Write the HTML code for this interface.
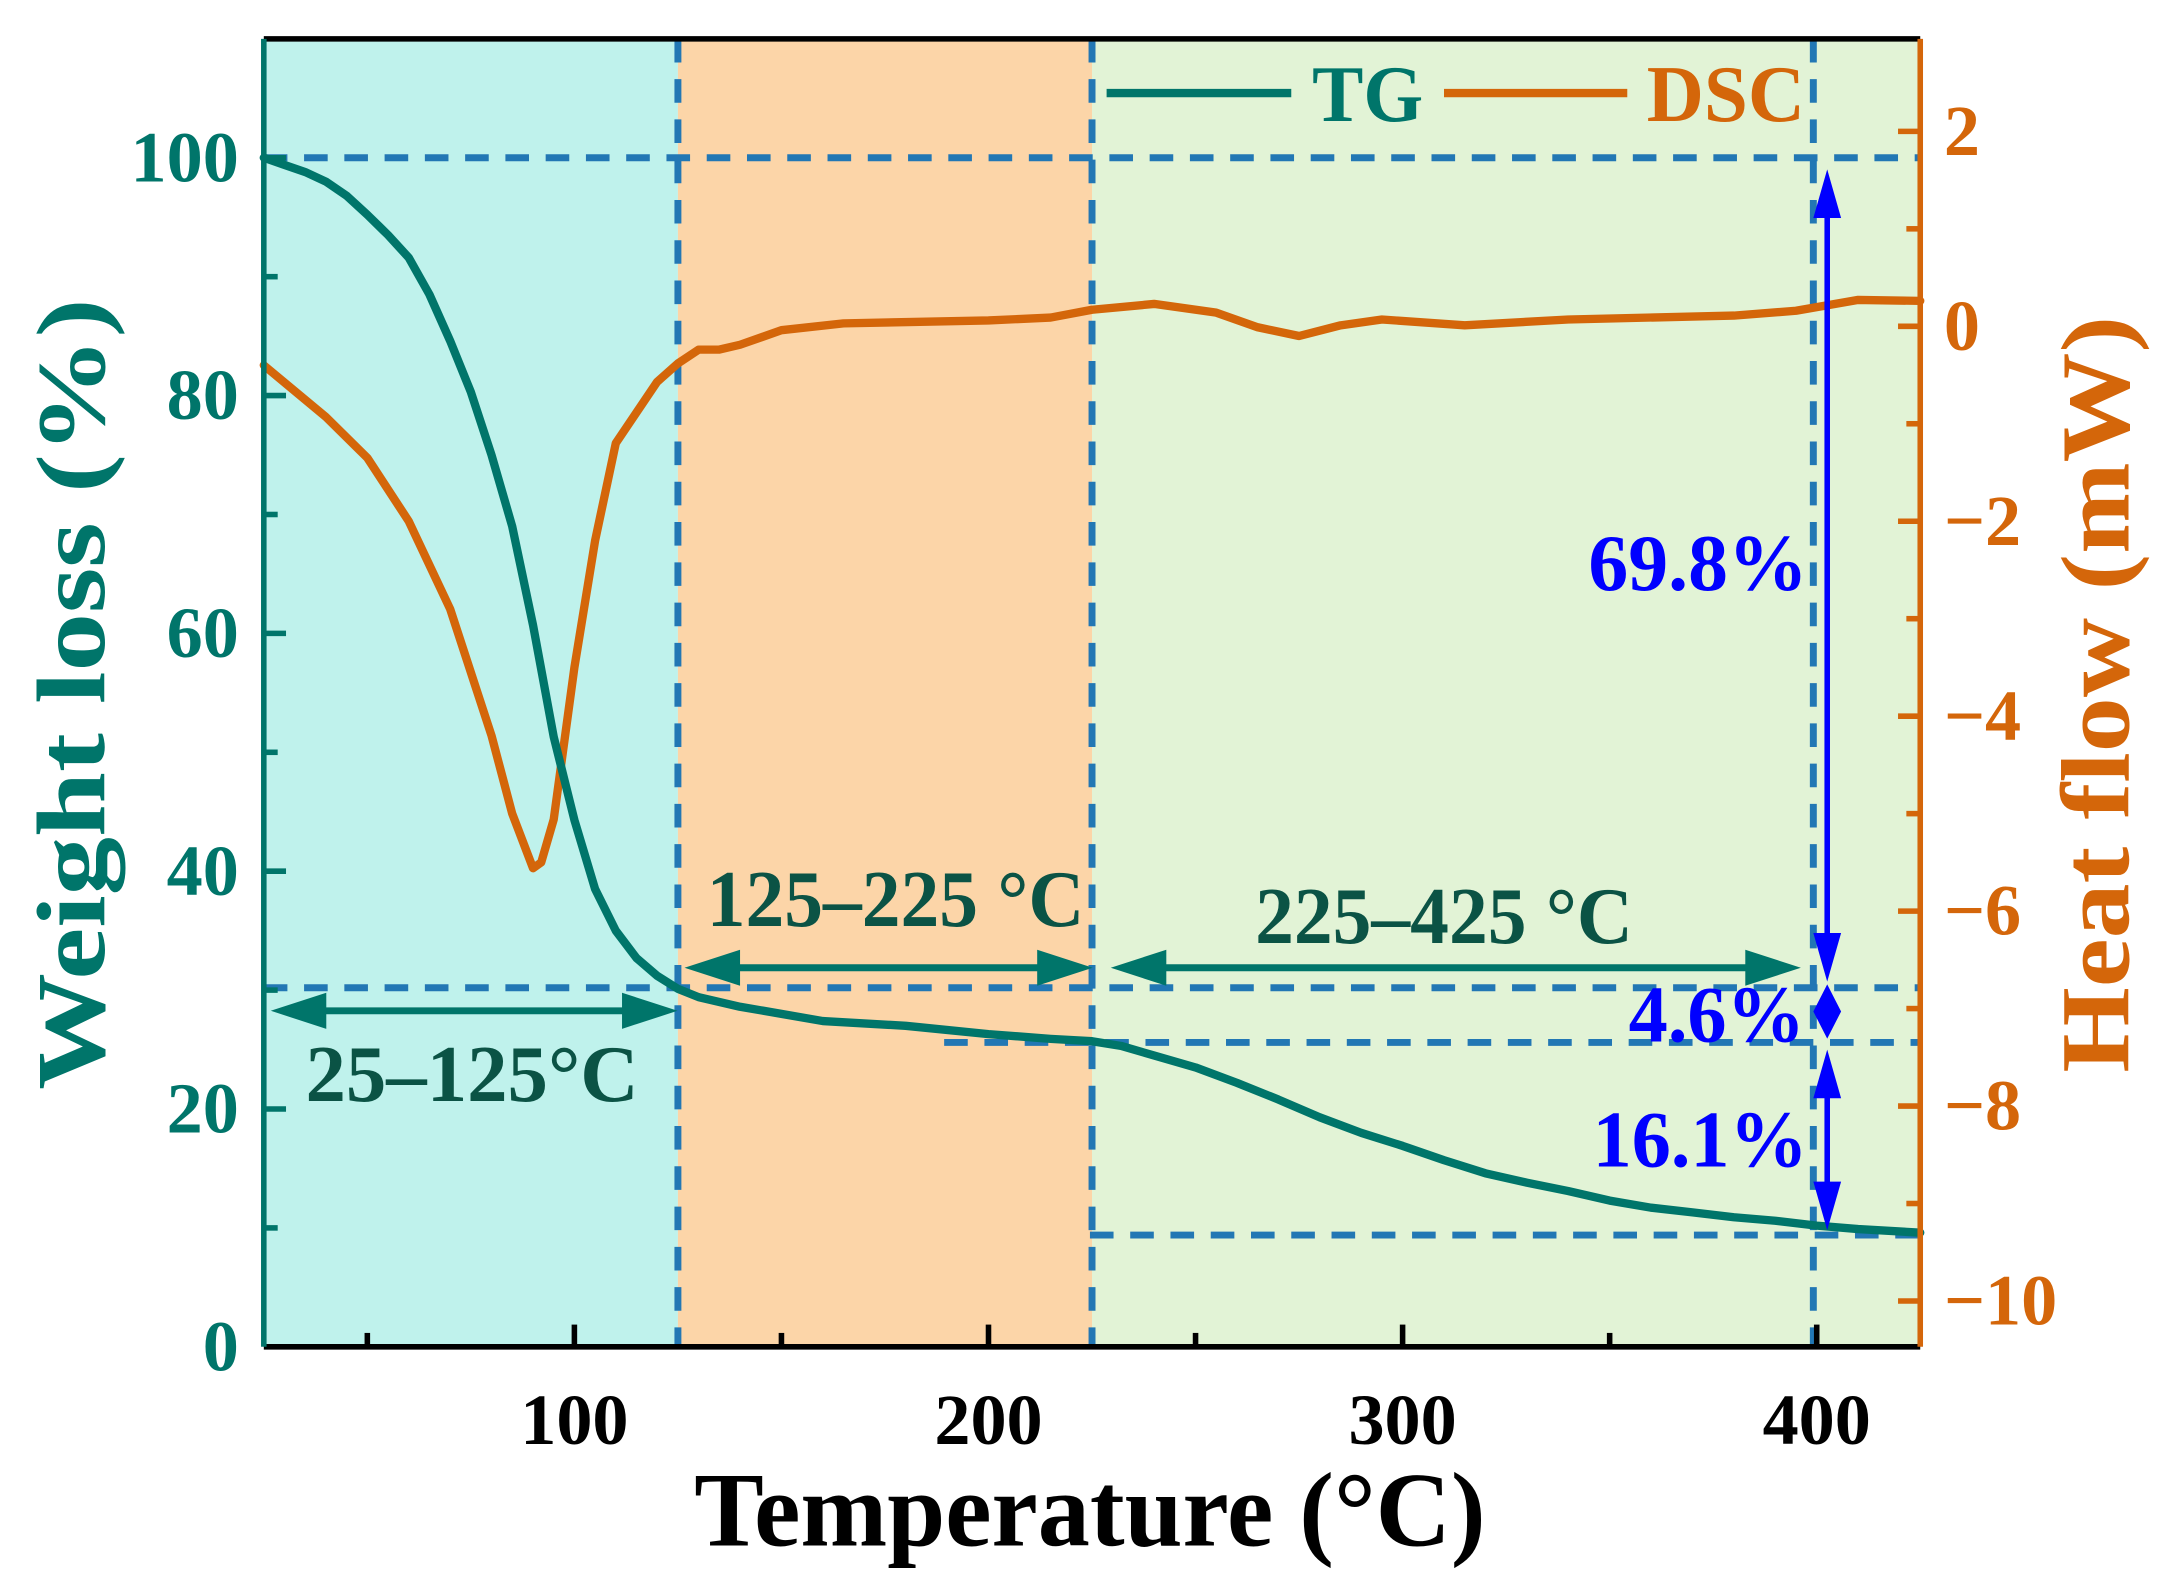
<!DOCTYPE html>
<html><head><meta charset="utf-8"><style>
html,body{margin:0;padding:0;background:#fff;}
svg{display:block;}
text{font-family:"Liberation Serif",serif;font-weight:bold;}
</style></head><body>
<svg id="chart" xmlns="http://www.w3.org/2000/svg" width="2166" height="1585" viewBox="0 0 1560 1141.55" font-family="Liberation Serif, serif" font-weight="bold">
<g id="bg"></g><g id="guides"></g><g id="series"></g><g id="axes"></g><g id="annot"></g>
</svg>
<script>
const tgTemps=[25,30,35,40,45,50,55,60,65,70,75,80,85,90,95,100,105,110,115,120,125,130,140,150,160,180,200,215,225,232,240,250,260,270,280,290,300,310,320,330,340,350,360,370,380,390,400,410,425];
const tgWeight=[100,99.4,98.8,98,96.8,95.2,93.5,91.6,88.5,84.6,80.3,75,69,60.7,51.3,44.3,38.5,35,32.7,31.2,30.1,29.4,28.6,28,27.4,27,26.3,25.9,25.7,25.3,24.5,23.5,22.2,20.8,19.3,18,16.9,15.7,14.6,13.8,13.1,12.3,11.7,11.3,10.9,10.6,10.2,9.9,9.6];
const dscTemps=[25,40,50,60,70,80,85,90,92,95,100,105,110,120,125,130,135,140,150,165,200,215,225,240,255,265,275,285,295,315,340,380,395,410,425];
const dscFlow=[-0.4,-0.93,-1.35,-2.0,-2.9,-4.2,-5.0,-5.56,-5.5,-5.06,-3.5,-2.2,-1.2,-0.57,-0.38,-0.24,-0.24,-0.19,-0.04,0.03,0.06,0.09,0.17,0.23,0.14,-0.01,-0.1,0.01,0.07,0.01,0.07,0.11,0.16,0.27,0.26];
const xTicks=[100,200,300,400];
const yLeftTicks=[0,20,40,60,80,100];
const yRightTicks=[2,0,-2,-4,-6,-8,-10];
const regions=[[25,125,'#bff2ec','region-25-125'],[125,225,'#fcd5a8','region-125-225'],[225,425,'#e2f3d6','region-225-425']];

const L=190,R=1383,T=28,B=970;
const X=t=>L+(t-25)*(R-L)/400;
const YL=w=>B-w*(B-T)/110;
const YR=v=>235-v*70.2;
const NS='http://www.w3.org/2000/svg';
function mk(tag,attrs,parent,txt){const e=document.createElementNS(NS,tag);for(const k in attrs)e.setAttribute(k,attrs[k]);if(txt!==undefined)e.textContent=txt;parent.appendChild(e);return e;}
const bg=document.getElementById('bg'),gd=document.getElementById('guides'),sr=document.getElementById('series'),ax=document.getElementById('axes');
const FF='Liberation Serif, serif';

regions.forEach(r=>{const e=mk('rect',{x:X(r[0]),y:T,width:X(r[1])-X(r[0]),height:B-T,fill:r[2]},bg);

});

const dash={stroke:'#2277b4','stroke-width':5,'stroke-dasharray':'17 12',fill:'none'};
function dl(x1,y1,x2,y2,name){const e=mk('line',Object.assign({x1,y1,x2,y2},dash),gd);

}
dl(X(125),T,X(125),B,'guide-125');dl(X(225),T,X(225),B,'guide-225');dl(1306,T,1306,B,'guide-400');
dl(L,YL(100),R,YL(100),'guide-100pct');dl(L,YL(30.2),R,YL(30.2),'guide-30pct');
dl(680,YL(25.6),R,YL(25.6),'guide-25pct');dl(785,YL(9.4),R,YL(9.4),'guide-9pct');

function path(xs,ys,fx,fy,color,name){let d='';xs.forEach((t,i)=>{d+=(i?'L':'M')+fx(t).toFixed(1)+' '+fy(ys[i]).toFixed(1)+' ';});
const e=mk('path',{d,fill:'none',stroke:color,'stroke-width':6,'stroke-linejoin':'round','stroke-linecap':'round'},sr);

}
path(dscTemps,dscFlow,X,YR,'#d4660a','dsc-line');
path(tgTemps,tgWeight,X,YL,'#00756a','tg-line');

mk('line',{x1:L,y1:T,x2:R,y2:T,stroke:'#000','stroke-width':4},ax);
mk('line',{x1:L,y1:B,x2:R,y2:B,stroke:'#000','stroke-width':4},ax);
mk('line',{x1:L,y1:T,x2:L,y2:B,stroke:'#00756a','stroke-width':4},ax);
mk('line',{x1:R,y1:T,x2:R,y2:B,stroke:'#d4660a','stroke-width':4},ax);
for(let t=50;t<425;t+=50){mk('line',{x1:X(t),y1:B,x2:X(t),y2:B-(t%100===0?16:10),stroke:'#000','stroke-width':4},ax);}
xTicks.forEach(t=>{const e=mk('text',{x:X(t),y:1040,'text-anchor':'middle','font-size':52,fill:'#000','font-family':FF},ax,String(t));

});
for(let w=10;w<=100;w+=10){mk('line',{x1:L,y1:YL(w),x2:L+(w%20===0?16:10),y2:YL(w),stroke:'#00756a','stroke-width':4},ax);}
yLeftTicks.forEach(w=>{const e=mk('text',{x:172,y:YL(w)+17,'text-anchor':'end','font-size':52,fill:'#00756a','font-family':FF},ax,String(w));

});
for(let v=-10;v<=2;v+=1){mk('line',{x1:R,y1:YR(v),x2:R-(v%2===0?16:10),y2:YR(v),stroke:'#d4660a','stroke-width':4},ax);}
yRightTicks.forEach(v=>{const e=mk('text',{x:1400,y:YR(v)+17,'text-anchor':'start','font-size':52,fill:'#d4660a','font-family':FF},ax,v<0?'\u2212'+Math.abs(v):String(v));

});
</script>
<script>
(function(){
const an=document.getElementById('annot');const NS='http://www.w3.org/2000/svg';const FF='Liberation Serif, serif';
function mk(tag,attrs,txt){const e=document.createElementNS(NS,tag);attrs['font-family']=FF;for(const k in attrs)e.setAttribute(k,attrs[k]);if(txt!==undefined)e.textContent=txt;an.appendChild(e);return e;}
let e;
e=mk('text',{x:785,y:1113,'text-anchor':'middle','font-size':76,fill:'#000',textLength:570,lengthAdjust:'spacingAndGlyphs'},'Temperature (°C)');

e=mk('text',{transform:'translate(75,500) rotate(-90)','text-anchor':'middle','font-size':70,fill:'#00756a',textLength:570,lengthAdjust:'spacingAndGlyphs'},'Weight loss (%)');

e=mk('text',{transform:'translate(1533,500) rotate(-90)','text-anchor':'middle','font-size':70,fill:'#d4660a',textLength:545,lengthAdjust:'spacingAndGlyphs'},'Heat flow (mW)');

mk('line',{x1:797,y1:67,x2:930,y2:67,stroke:'#00756a','stroke-width':6});
e=mk('text',{x:945,y:87,'font-size':58,fill:'#00756a',textLength:80,lengthAdjust:'spacingAndGlyphs'},'TG');

mk('line',{x1:1040,y1:67,x2:1172,y2:67,stroke:'#d4660a','stroke-width':6});
e=mk('text',{x:1186,y:87,'font-size':58,fill:'#d4660a',textLength:114,lengthAdjust:'spacingAndGlyphs'},'DSC');

function garrow(x1,x2,y,name){const g=document.createElementNS(NS,'g');an.appendChild(g);

const l=document.createElementNS(NS,'line');l.setAttribute('x1',x1+30);l.setAttribute('x2',x2-30);l.setAttribute('y1',y);l.setAttribute('y2',y);l.setAttribute('stroke','#00756a');l.setAttribute('stroke-width',5);g.appendChild(l);
const p=document.createElementNS(NS,'path');p.setAttribute('d',`M${x1} ${y} L${x1+40} ${y-13} L${x1+40} ${y+13}Z M${x2} ${y} L${x2-40} ${y-13} L${x2-40} ${y+13}Z`);p.setAttribute('fill','#00756a');g.appendChild(p);}
garrow(195,488,728,'arrow-25-125');garrow(493,787,697,'arrow-125-225');garrow(800,1297,697,'arrow-225-425');
const tc='#0b5345';
e=mk('text',{x:340,y:793,'text-anchor':'middle','font-size':58,fill:tc,textLength:240,lengthAdjust:'spacingAndGlyphs'},'25–125°C');

e=mk('text',{x:645,y:667,'text-anchor':'middle','font-size':58,fill:tc,textLength:272,lengthAdjust:'spacingAndGlyphs'},'125–225 °C');

e=mk('text',{x:1040,y:679,'text-anchor':'middle','font-size':58,fill:tc,textLength:272,lengthAdjust:'spacingAndGlyphs'},'225–425 °C');

function barrow(y1,y2,name){const x=1316;const g=document.createElementNS(NS,'g');an.appendChild(g);

const l=document.createElementNS(NS,'line');l.setAttribute('x1',x);l.setAttribute('x2',x);l.setAttribute('y1',y1+15);l.setAttribute('y2',y2-15);l.setAttribute('stroke','#0000ff');l.setAttribute('stroke-width',4);g.appendChild(l);
const h=Math.min(35,(y2-y1)/2);
const p=document.createElementNS(NS,'path');p.setAttribute('d',`M${x} ${y1} L${x-10} ${y1+h} L${x+10} ${y1+h}Z M${x} ${y2} L${x-10} ${y2-h} L${x+10} ${y2-h}Z`);p.setAttribute('fill','#0000ff');g.appendChild(p);}
barrow(122,707,'arrow-69-8');barrow(709,748,'arrow-4-6');barrow(756,886,'arrow-16-1');
e=mk('text',{x:1302,y:425,'text-anchor':'end','font-size':58,fill:'#0000ff',textLength:158,lengthAdjust:'spacingAndGlyphs'},'69.8%');

e=mk('text',{x:1300,y:750,'text-anchor':'end','font-size':58,fill:'#0000ff',textLength:127,lengthAdjust:'spacingAndGlyphs'},'4.6%');

e=mk('text',{x:1302,y:840,'text-anchor':'end','font-size':58,fill:'#0000ff',textLength:155,lengthAdjust:'spacingAndGlyphs'},'16.1%');

})();
</script>
</body></html>
